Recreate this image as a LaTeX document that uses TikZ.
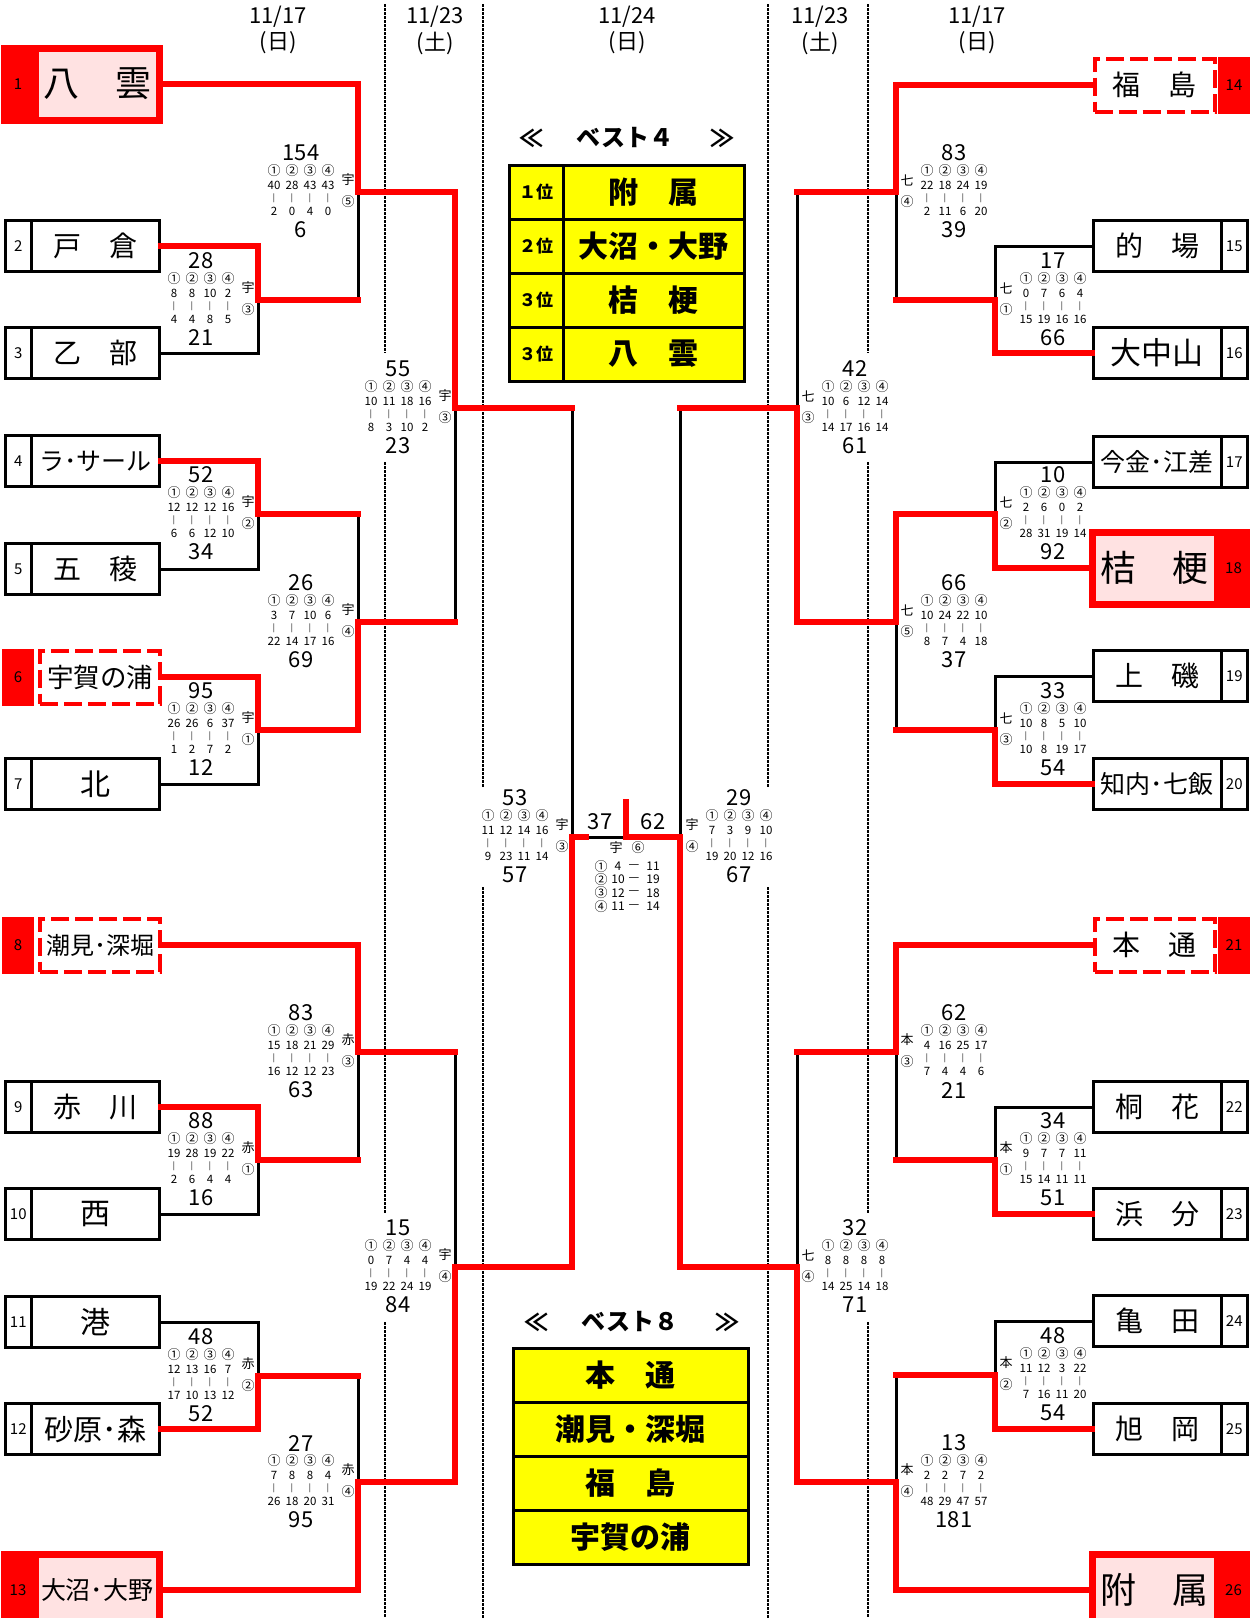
\documentclass[tikz,border=0pt]{standalone}
\usepackage{fontspec}
\setmainfont{Noto Sans CJK JP}
\usetikzlibrary{positioning}
\definecolor{bred}{RGB}{255,0,0}
\definecolor{byel}{RGB}{255,255,0}
\definecolor{bpink}{RGB}{255,226,226}
\newcommand{\setfs}[1]{\fontsize{#1}{#1}\selectfont}

\begin{document}
\begin{tikzpicture}[x=1pt, y=-1pt,
    font=\setfs{12},
    blk/.style={draw=black, line width=3pt},
    win/.style={draw=bred, line width=6.5pt, line cap=rect},
    guide/.style={draw=black, line width=2.5pt, dash pattern=on 2.5pt off 1.5pt},
    datelbl/.style={font=\setfs{22}, inner sep=0pt},
    numcell/.style={draw, line width=3pt, minimum width=25.5pt, minimum height=51pt, inner sep=0pt, font=\setfs{15}},
    namecell/.style={draw, line width=3pt, minimum width=128pt, minimum height=51pt, inner sep=0pt},
    wincell/.style={draw=bred, fill=bpink, line width=7pt, minimum width=124.5pt, minimum height=72pt, inner sep=0pt},
    winnum/.style={fill=bred, minimum width=34pt, minimum height=79pt, inner sep=0pt, font=\setfs{15}},
    dashcell/.style={draw=bred, line width=4pt, dash pattern=on 18pt off 6pt, minimum width=120pt, minimum height=53pt, inner sep=0pt},
    dashnum/.style={fill=bred, minimum width=32pt, minimum height=57pt, inner sep=0pt, font=\setfs{15}},
    bigsc/.style={font=\setfs{22}, inner sep=0pt},
    smallsc/.style={font=\setfs{11.5}, inner sep=0pt},
    barsc/.style={font=\setfs{8}, inner sep=0pt},
    circ/.style={font=\setfs{13}, inner sep=0pt},
    lbl/.style={font=\setfs{13}, inner sep=0pt},
    midsc/.style={font=\setfs{12}, inner sep=0pt},
    rankcell/.style={draw, line width=3pt, fill=byel, minimum width=54pt, minimum height=54pt, inner sep=0pt, font=\setfs{17}\bfseries},
    bestcell/.style={draw, line width=3pt, fill=byel, minimum height=54pt, inner sep=0pt, font=\setfs{30}\bfseries},
    besttitle/.style={font=\setfs{24}\bfseries, inner sep=0pt},
  ]
  % name, centre x, junction y, top score, ends, bottom score, label x, school, round
  \def\matchscore#1#2#3#4#5#6#7#8#9{%
    \node[bigsc] (#1top) at (#2,#3-39) {#4};
    \foreach \a/\b [count=\i] in {#5} {
      \pgfmathsetmacro\xx{#2+18*\i-45}
      \node[circ] (#1c\i) at (\xx,#3-21) {\ifcase\i\or ①\or ②\or ③\or ④\fi};
      \node[smallsc] (#1a\i) at (\xx,#3-7) {\a};
      \node[barsc] (#1v\i) at (\xx,#3+6) {|};
      \node[smallsc] (#1b\i) at (\xx,#3+19) {\b};
    }
    \node[bigsc] (#1bot) at (#2,#3+38) {#6};
    \node[lbl] (#1s) at (#7,#3-12) {#8};
    \node[lbl] (#1r) at (#7,#3+10) {#9};
  }

  \useasboundingbox (0,0) rectangle (1250,1618);
  \clip (0,0) rectangle (1250,1618);
  \fill[white] (0,0) rectangle (1250,1618);

  % date columns
  \foreach \x/\d/\w [count=\i] in {278/{11/17}/日, 435/{11/23}/土, 627/{11/24}/日, 820/{11/23}/土, 977/{11/17}/日} {
    \node[datelbl] (d\i) at (\x,17) {\d};
    \node[datelbl] (w\i) at (\x,43) {(\w)};
  }
  \foreach \x/\a/\b in {385/4/353, 385/462/1213, 385/1322/1618, 483/4/788, 483/887/1618,
      768/4/788, 768/887/1618, 868/4/353, 868/462/1213, 868/1322/1618}
    \draw[guide] (\x,\a) -- (\x,\b);

  % teams, left
  \foreach \n/\y/\nm/\s in {2/246/戸　倉/28, 3/353/乙　部/28, 4/461/ラ･サール/25, 5/569/五　稜/28,
      7/784/北/30, 9/1107/赤　川/28, 10/1214/西/30, 11/1322/港/30, 12/1429/砂原･森/29} {
    \node[numcell] (n\n) at (18.25,\y) {\n};
    \node[namecell, font=\setfs{\s}] (t\n) at (95.5,\y) {\nm};
  }
  % teams, right
  \foreach \n/\y/\nm/\s in {15/246/的　場/28, 16/353/大中山/31, 17/462/今金･江差/25, 19/676/上　磯/28,
      20/784/知内･七飯/25, 22/1107/桐　花/28, 23/1214/浜　分/28, 24/1321/亀　田/28, 25/1429/旭　岡/28} {
    \node[numcell, minimum width=26.5pt] (n\n) at (1234.25,\y) {\n};
    \node[namecell, font=\setfs{\s}] (t\n) at (1157,\y) {\nm};
  }
  % best 4
  \foreach \n/\x/\nx/\y/\nm/\s in {1/97.25/18/84/八　雲/36, 13/97.25/18/1590/大沼･大野/25,
      18/1154.75/1233.5/568/桔　梗/36, 26/1154.75/1233.5/1590/附　属/36} {
    \node[winnum] (n\n) at (\nx,\y) {\n};
    \node[wincell, font=\setfs{\s}] (t\n) at (\x,\y) {\nm};
  }
  % best 8
  \foreach \n/\x/\nx/\y/\nm/\s in {6/100/18/677/宇賀の浦/26.5, 8/100/18/945/潮見･深堀/24,
      14/1154.5/1234/85/福　島/28, 21/1154.5/1234/945/本　通/28} {
    \node[dashnum] (n\n) at (\nx,\y) {\n};
    \node[dashcell, font=\setfs{\s}] (t\n) at (\x,\y) {\nm};
  }

  % junctions
  \coordinate (m1) at (258,300);  \coordinate (m2) at (358,192);
  \coordinate (m3) at (258,514);  \coordinate (m4) at (258,730);
  \coordinate (m5) at (358,622);  \coordinate (m6) at (455,408);
  \coordinate (m7) at (258,1160); \coordinate (m8) at (358,1052);
  \coordinate (m9) at (258,1376); \coordinate (m10) at (358,1482);
  \coordinate (m11) at (455,1267); \coordinate (m12) at (572,837);
  \coordinate (r1) at (995,300);  \coordinate (r2) at (896,192);
  \coordinate (r3) at (995,514);  \coordinate (r4) at (995,730);
  \coordinate (r5) at (896,622);  \coordinate (r6) at (797,408);
  \coordinate (r7) at (995,1160); \coordinate (r8) at (896,1052);
  \coordinate (r9) at (995,1375); \coordinate (r10) at (896,1482);
  \coordinate (r11) at (797,1267); \coordinate (r12) at (680,837);
  \coordinate (fin) at (626,837); \coordinate (fintop) at (626,802);
  \coordinate (lstub) at (586,837);

  % bracket
  \foreach \s/\d in {t2.east/m1, t3.east/m1, t1.east/m2, m1/m2, t4.east/m3, t5.east/m3, t6.east/m4,
      t7.east/m4, m3/m5, m4/m5, m2/m6, m5/m6, t9.east/m7, t10.east/m7, t8.east/m8, m7/m8,
      t11.east/m9, t12.east/m9, m9/m10, t13.east/m10, m8/m11, m10/m11, m6/m12, m11/m12,
      t15.west/r1, t16.west/r1, t14.west/r2, r1/r2, t17.west/r3, t18.west/r3, t19.west/r4,
      t20.west/r4, r3/r5, r4/r5, r2/r6, r5/r6, t22.west/r7, t23.west/r7, t21.west/r8, r7/r8,
      t24.west/r9, t25.west/r9, r9/r10, t26.west/r10, r8/r11, r10/r11, r6/r12, r11/r12}
    \draw[blk] (\s) -| (\d);
  \draw[blk] (m12) -- (r12);

  % winners' paths
  \foreach \s/\d in {t2.east/m1, t1.east/m2, m2/m6, t4.east/m3, t6.east/m4, m4/m5, t8.east/m8,
      t9.east/m7, t12.east/m9, t13.east/m10, m10/m11, m11/m12, t14.west/r2, t16.west/r1,
      t18.west/r3, r3/r5, t20.west/r4, r5/r6, t21.west/r8, t23.west/r7, t25.west/r9,
      t26.west/r10, r10/r11, r11/r12}
    \draw[win] (\s) -| (\d);
  \foreach \s/\d in {m1/m2, m6/m12, m3/m5, m5/m6, m7/m8, m8/m11, m9/m10, r1/r2, r2/r6, r4/r5,
      r6/r12, r7/r8, r8/r11, r9/r10}
    \draw[win] (\s) -- (\s -| \d);
  \draw[win] (m12) -- (lstub);
  \draw[win] (r12) -- (fin) -- (fintop);

  % scores, left
  \matchscore{mA}{201}{300}{28}{8/4,8/4,10/8,2/5}{21}{248}{宇}{③}
  \matchscore{mB}{301}{192}{154}{40/2,28/0,43/4,43/0}{6}{348}{宇}{⑤}
  \matchscore{mC}{398}{408}{55}{10/8,11/3,18/10,16/2}{23}{445}{宇}{③}
  \matchscore{mD}{201}{514}{52}{12/6,12/6,12/12,16/10}{34}{248}{宇}{②}
  \matchscore{mE}{301}{622}{26}{3/22,7/14,10/17,6/16}{69}{348}{宇}{④}
  \matchscore{mF}{201}{730}{95}{26/1,26/2,6/7,37/2}{12}{248}{宇}{①}
  \matchscore{mG}{515}{837}{53}{11/9,12/23,14/11,16/14}{57}{562}{宇}{③}
  \matchscore{mH}{301}{1052}{83}{15/16,18/12,21/12,29/23}{63}{348}{赤}{③}
  \matchscore{mI}{201}{1160}{88}{19/2,28/6,19/4,22/4}{16}{248}{赤}{①}
  \matchscore{mJ}{398}{1267}{15}{0/19,7/22,4/24,4/19}{84}{445}{宇}{④}
  \matchscore{mK}{201}{1376}{48}{12/17,13/10,16/13,7/12}{52}{248}{赤}{②}
  \matchscore{mL}{301}{1482}{27}{7/26,8/18,8/20,4/31}{95}{348}{赤}{④}
  % scores, right
  \matchscore{rA}{954}{192}{83}{22/2,18/11,24/6,19/20}{39}{907}{七}{④}
  \matchscore{rB}{1053}{300}{17}{0/15,7/19,6/16,4/16}{66}{1006}{七}{①}
  \matchscore{rC}{855}{408}{42}{10/14,6/17,12/16,14/14}{61}{808}{七}{③}
  \matchscore{rD}{1053}{514}{10}{2/28,6/31,0/19,2/14}{92}{1006}{七}{②}
  \matchscore{rE}{954}{622}{66}{10/8,24/7,22/4,10/18}{37}{907}{七}{⑤}
  \matchscore{rF}{1053}{730}{33}{10/10,8/8,5/19,10/17}{54}{1006}{七}{③}
  \matchscore{rG}{739}{837}{29}{7/19,3/20,9/12,10/16}{67}{692}{宇}{④}
  \matchscore{rH}{954}{1052}{62}{4/7,16/4,25/4,17/6}{21}{907}{本}{③}
  \matchscore{rI}{1053}{1160}{34}{9/15,7/14,7/11,11/11}{51}{1006}{本}{①}
  \matchscore{rJ}{855}{1267}{32}{8/14,8/25,8/14,8/18}{71}{808}{七}{④}
  \matchscore{rK}{1053}{1375}{48}{11/7,12/16,3/11,22/20}{54}{1006}{本}{②}
  \matchscore{rL}{954}{1482}{13}{2/48,2/29,7/47,2/57}{181}{907}{本}{④}

  % final
  \node[bigsc] (f37) at (600,822) {37};
  \node[bigsc] (f62) at (653,822) {62};
  \node[lbl] (fu) at (616,848) {宇};
  \node[circ] (fr) at (638,848) {⑥};
  \foreach \a/\b [count=\i] in {4/11, 10/19, 12/18, 11/14} {
    \pgfmathsetmacro\yy{853+13.3*\i}
    \node[circ] (fc\i) at (601,\yy) {\ifcase\i\or ①\or ②\or ③\or ④\fi};
    \node[midsc] (fa\i) at (618,\yy) {\a};
    \node[midsc] (fd\i) at (634,\yy) {—};
    \node[midsc] (fb\i) at (653,\yy) {\b};
  }

  % best 4 table
  \node[besttitle] (b4t) at (625,138) {ベスト４};
  \node[besttitle, left=33pt of b4t] (b4l) {≪};
  \node[besttitle, right=37pt of b4t] (b4r) {≫};
  \foreach \pl/\nm [count=\i] in {１位/附　属, ２位/大沼・大野, ３位/桔　梗, ３位/八　雲} {
    \pgfmathsetmacro\yy{138+54*\i}
    \node[rankcell] (b4p\i) at (536,\yy) {\pl};
    \node[bestcell, minimum width=181pt] (b4n\i) at (653.5,\yy) {\nm};
  }

  % best 8 table
  \node[besttitle] (b8t) at (630,1322) {ベスト８};
  \node[besttitle, left=33pt of b8t] (b8l) {≪};
  \node[besttitle, right=37pt of b8t] (b8r) {≫};
  \foreach \nm [count=\i] in {本　通, 潮見・深堀, 福　島, 宇賀の浦} {
    \pgfmathsetmacro\yy{1321+54*\i}
    \node[bestcell, minimum width=235pt] (b8n\i) at (630.5,\yy) {\nm};
  }
\end{tikzpicture}
\end{document}
